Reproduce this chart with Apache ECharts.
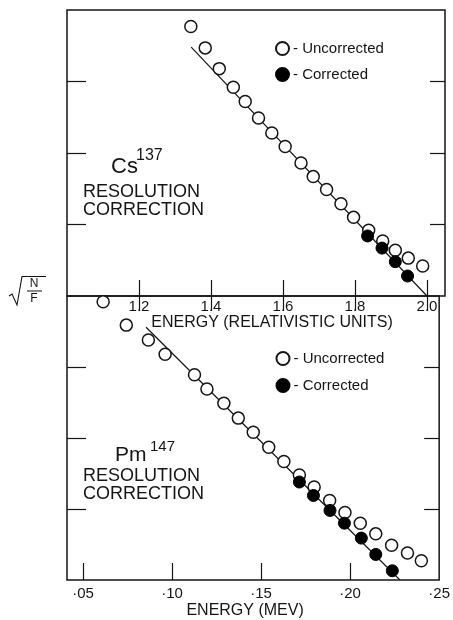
<!DOCTYPE html>
<html>
<head>
<meta charset="utf-8">
<script src="https://cdn.jsdelivr.net/npm/echarts@6/dist/echarts.min.js"></script>
<style>
html,body{margin:0;padding:0;background:#fff;}
#chart{width:453px;height:620px;}
</style>
</head>
<body>
<div id="chart"></div>
<script>
// ---- Data ----
// Top panel: Cs137, energy in relativistic units
const csUncorrectedX = [1.344,1.384,1.423,1.462,1.495,1.532,1.569,1.606,1.650,1.684,1.721,1.761,1.796,1.838,1.877,1.912,1.948,1.988];
const csUncorrectedY = [3.77,3.47,3.18,2.92,2.72,2.49,2.28,2.09,1.86,1.67,1.49,1.29,1.10,0.92,0.77,0.64,0.53,0.42];
const csCorrectedX = [1.835,1.875,1.912,1.946];
const csCorrectedY = [0.84,0.67,0.48,0.28];
const csFitX = [1.345, 2.0];
const csFitY = [3.48, 0.0];
const csTickValues = [1.2,1.4,1.6,1.8,2.0];
const csTickLabels = ['1.2','1.4','1.6','1.8','2.0'];

// Bottom panel: Pm147, energy in MeV
const pmUncorrectedX = [0.0613,0.0743,0.0867,0.0961,0.1126,0.1196,0.1291,0.1372,0.1456,0.1543,0.1628,0.1715,0.1798,0.1885,0.1971,0.2057,0.2144,0.2233,0.2322,0.2400];
const pmUncorrectedY = [3.92,3.59,3.38,3.18,2.89,2.69,2.49,2.28,2.08,1.87,1.67,1.48,1.31,1.12,0.95,0.80,0.65,0.49,0.38,0.27];
const pmCorrectedX = [0.1715,0.1794,0.1887,0.1968,0.2063,0.2144,0.2237];
const pmCorrectedY = [1.38,1.19,0.98,0.80,0.59,0.36,0.13];
const pmFitX = [0.0854, 0.228];
const pmFitY = [3.56, 0.0];
const pmTickValues = [0.05,0.10,0.15,0.20,0.25];
const pmTickLabels = ['\u00B705','\u00B710','\u00B715','\u00B720','\u00B725'];

const yTickValues = [1,2,3];

// ---- helpers ----
const zip = (xs, ys) => xs.map((x, i) => [x, ys[i]]);
const labelFor = (vals, labs) => v => {
  const i = vals.findIndex(t => Math.abs(t - v) < 1e-9);
  return i >= 0 ? labs[i] : '';
};
const FONT = 'Liberation Sans';
const INK = '#151515';

const chart = echarts.init(document.getElementById('chart'), null, {renderer: 'canvas'});

function tickAxis(extra) {
  return Object.assign({
    type: 'value',
    axisLine: {show: false},
    splitLine: {show: false},
    axisLabel: {show: false},
    axisTick: {show: true, inside: true, length: 15, lineStyle: {color: INK, width: 1.2}}
  }, extra);
}

const openStyle = {color: '#fff', borderColor: INK, borderWidth: 1.5, opacity: 1};
const filledStyle = {color: '#000', borderColor: '#000', borderWidth: 1, opacity: 1};

const option = {
  animation: false,
  backgroundColor: '#fff',
  textStyle: {fontFamily: FONT, color: INK},
  grid: [
    {left: 67, top: 10, width: 378, height: 286, show: true, borderColor: INK, borderWidth: 1.5, backgroundColor: 'transparent'},
    {left: 67, top: 296, width: 376, height: 286, show: true, borderColor: INK, borderWidth: 1.5, backgroundColor: 'transparent'}
  ],
  legend: [
    {
      orient: 'vertical', left: 275, top: 41, padding: 0, itemGap: 11,
      itemWidth: 13, itemHeight: 13, selectedMode: false,
      data: ['Uncorrected', 'Corrected'],
      formatter: n => '- ' + n,
      textStyle: {fontFamily: FONT, fontSize: 15, color: INK, padding: [0, 0, 0, -1]}
    },
    {
      orient: 'vertical', left: 275.5, top: 351, padding: 0, itemGap: 12,
      itemWidth: 13, itemHeight: 13, selectedMode: false,
      data: ['Uncorrected', 'Corrected'],
      formatter: n => '- ' + n,
      textStyle: {fontFamily: FONT, fontSize: 15, color: INK, padding: [0, 0, 0, -1]}
    }
  ],
  xAxis: [
    tickAxis({
      gridIndex: 0, position: 'bottom', min: 1.0, max: 2.05,
      axisTick: {show: true, inside: true, length: 16, customValues: csTickValues, lineStyle: {color: INK, width: 1.2}},
      axisLabel: {show: true, customValues: csTickValues, formatter: labelFor(csTickValues, csTickLabels),
        margin: 3, fontSize: 15, color: INK, fontFamily: FONT},
      name: 'ENERGY (RELATIVISTIC UNITS)', nameLocation: 'middle', nameGap: 18,
      nameTextStyle: {fontSize: 16, color: INK, fontFamily: FONT, padding: [0, 0, 0, 32]}
    }),
    tickAxis({
      gridIndex: 0, position: 'top', min: 1.0, max: 2.05,
      axisTick: {show: true, inside: true, length: 15, customValues: csTickValues, lineStyle: {color: INK, width: 1.2}}
    }),
    tickAxis({
      gridIndex: 1, position: 'bottom', min: 0.041, max: 0.25,
      axisTick: {show: true, inside: true, length: 17, customValues: pmTickValues.slice(0, 4), lineStyle: {color: INK, width: 1.2}},
      axisLabel: {show: true, customValues: pmTickValues, formatter: labelFor(pmTickValues, pmTickLabels),
        margin: 6, fontSize: 15, color: INK, fontFamily: FONT},
      name: 'ENERGY (MEV)', nameLocation: 'middle', nameGap: 23,
      nameTextStyle: {fontSize: 16, color: INK, fontFamily: FONT, padding: [0, 16, 0, 0]}
    })
  ],
  yAxis: [
    tickAxis({gridIndex: 0, position: 'left', min: 0, max: 4,
      axisTick: {show: true, inside: true, length: 19, customValues: yTickValues, lineStyle: {color: INK, width: 1.2}}}),
    tickAxis({gridIndex: 0, position: 'right', min: 0, max: 4,
      axisTick: {show: true, inside: true, length: 15, customValues: yTickValues, lineStyle: {color: INK, width: 1.2}}}),
    tickAxis({gridIndex: 1, position: 'left', min: 0, max: 4,
      axisTick: {show: true, inside: true, length: 19, customValues: yTickValues, lineStyle: {color: INK, width: 1.2}}}),
    tickAxis({gridIndex: 1, position: 'right', min: 0, max: 4,
      axisTick: {show: true, inside: true, length: 15, customValues: yTickValues, lineStyle: {color: INK, width: 1.2}}})
  ],
  series: [
    {name: 'fitCs', type: 'line', xAxisIndex: 0, yAxisIndex: 0, data: zip(csFitX, csFitY),
      showSymbol: false, symbol: 'none', lineStyle: {color: INK, width: 1.2}, z: 1, silent: true},
    {name: 'Uncorrected', type: 'scatter', xAxisIndex: 0, yAxisIndex: 0, data: zip(csUncorrectedX, csUncorrectedY),
      symbol: 'circle', symbolSize: 12, itemStyle: openStyle, z: 3},
    {name: 'Corrected', type: 'scatter', xAxisIndex: 0, yAxisIndex: 0, data: zip(csCorrectedX, csCorrectedY),
      symbol: 'circle', symbolSize: 12, itemStyle: filledStyle, z: 4},
    {name: 'fitPm', type: 'line', xAxisIndex: 2, yAxisIndex: 2, data: zip(pmFitX, pmFitY),
      showSymbol: false, symbol: 'none', lineStyle: {color: INK, width: 1.2}, z: 1, silent: true},
    {name: 'Uncorrected', type: 'scatter', xAxisIndex: 2, yAxisIndex: 2, data: zip(pmUncorrectedX, pmUncorrectedY),
      symbol: 'circle', symbolSize: 12, itemStyle: openStyle, z: 3},
    {name: 'Corrected', type: 'scatter', xAxisIndex: 2, yAxisIndex: 2, data: zip(pmCorrectedX, pmCorrectedY),
      symbol: 'circle', symbolSize: 12, itemStyle: filledStyle, z: 4}
  ],
  graphic: [
    // y-axis label: sqrt(N/F)
    {type: 'polyline', shape: {points: [[9, 296], [12, 294], [17, 305], [22, 276.5], [46, 276.5]]},
      style: {stroke: INK, lineWidth: 1.1, fill: null}},
    {type: 'text', x: 34, y: 283.5, style: {text: 'N', font: '12px "Liberation Sans"', fill: INK, align: 'center', verticalAlign: 'middle'}},
    {type: 'line', shape: {x1: 27, y1: 291, x2: 42, y2: 291}, style: {stroke: INK, lineWidth: 1}},
    {type: 'text', x: 34, y: 299, style: {text: 'F', font: '12px "Liberation Sans"', fill: INK, align: 'center', verticalAlign: 'middle'}},
    // Top panel annotation
    {type: 'text', x: 111, y: 167, style: {text: 'Cs', font: '22px "Liberation Sans"', fill: INK, verticalAlign: 'middle'}},
    {type: 'text', x: 136, y: 156, style: {text: '137', font: '16px "Liberation Sans"', fill: INK, verticalAlign: 'middle'}},
    {type: 'text', x: 83, y: 192.5, style: {text: 'RESOLUTION', font: '18px "Liberation Sans"', fill: INK, verticalAlign: 'middle'}},
    {type: 'text', x: 83, y: 210, style: {text: 'CORRECTION', font: '18px "Liberation Sans"', fill: INK, verticalAlign: 'middle'}},
    // Bottom panel annotation
    {type: 'text', x: 115, y: 455, style: {text: 'Pm', font: '21px "Liberation Sans"', fill: INK, verticalAlign: 'middle'}},
    {type: 'text', x: 150, y: 447, style: {text: '147', font: '15px "Liberation Sans"', fill: INK, verticalAlign: 'middle'}},
    {type: 'text', x: 83, y: 476, style: {text: 'RESOLUTION', font: '18px "Liberation Sans"', fill: INK, verticalAlign: 'middle'}},
    {type: 'text', x: 83, y: 494.5, style: {text: 'CORRECTION', font: '18px "Liberation Sans"', fill: INK, verticalAlign: 'middle'}}
  ]
};

chart.setOption(option);
</script>
</body>
</html>
